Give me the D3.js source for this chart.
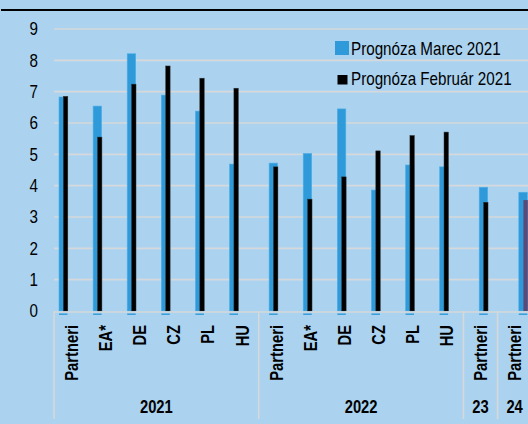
<!DOCTYPE html>
<html lang="sk">
<head>
    <meta charset="UTF-8">
    <title>Prognóza rastu partnerov</title>
    <style>
        body { margin: 0; background: #abd3f0; }
        svg { display: block; }
        text { font-family: "Liberation Sans", Arial, sans-serif; fill: #000; }
    </style>
</head>
<body>
<script src="https://cdn.jsdelivr.net/npm/d3@7/dist/d3.min.js"></script>
<script>
    // categories on the x axis and the year group each one belongs to
    const categories = ["Partneri", "EA*", "DE", "CZ", "PL", "HU",
                        "Partneri", "EA*", "DE", "CZ", "PL", "HU",
                        "Partneri", "Partneri"];
    const groups = ["2021", "2021", "2021", "2021", "2021", "2021",
                    "2022", "2022", "2022", "2022", "2022", "2022",
                    "23", "24"];
    // series values
    const marec   = [6.83, 6.54, 8.21, 6.89, 6.38, 4.69, 4.72, 5.03, 6.45, 3.86, 4.66, 4.60, 3.95, 3.79];
    const februar = [6.85, 5.55, 7.24, 7.82, 7.43, 7.11, 4.60, 3.57, 4.28, 5.11, 5.60, 5.71, 3.47, null];
    const extra   = [null, null, null, null, null, null, null, null, null, null, null, null, null, 3.54];
    const yTicks = [0, 1, 2, 3, 4, 5, 6, 7, 8, 9];
    const legendLabels = ["Prognóza Marec 2021", "Prognóza Február 2021"];

    const width = 528, height = 424;
    const plotLeft = 54, plotTop = 29, plotBottom = 311;
    const step = 34.12;
    // fake a narrow face, no Arial Narrow installed
    const narrow = 0.845, narrowBold = 0.82;

    const svg = d3.select("body").append("svg")
        .attr("width", width)
        .attr("height", height);

    // top rule
    svg.append("line")
        .attr("x1", 1).attr("x2", width)
        .attr("y1", 10).attr("y2", 10)
        .attr("stroke", "#000").attr("stroke-width", 2);

    const idx = categories.map((d, i) => i);
    const groupNames = Array.from(new Set(groups));

    // axis (label) scale
    const x = d3.scaleBand().domain(idx).range([plotLeft, plotLeft + step * categories.length]);
    // bars sit on their own scale, with a small gap between the year groups
    const gapUnits = 0.161;
    const xBar = d3.scaleLinear().domain([0, 1]).range([59, 59 + step * 0.9995]);
    const barPos = i => xBar(i + groupNames.indexOf(groups[i]) * gapUnits);

    const y = d3.scaleLinear().domain([0, 9]).range([plotBottom, plotTop]);

    // gridlines
    svg.append("g")
        .selectAll("line")
        .data(yTicks.filter(t => t > 0))
        .join("line")
            .attr("x1", plotLeft).attr("x2", width)
            .attr("y1", d => y(d)).attr("y2", d => y(d))
            .attr("stroke", "#d6d8da").attr("stroke-width", 1.6);

    // y axis labels
    svg.append("g")
        .selectAll("text")
        .data(yTicks)
        .join("text")
            .attr("transform", d => `translate(38,${y(d)}) scale(${narrow},1)`)
            .attr("dy", "0.36em")
            .attr("text-anchor", "end")
            .attr("font-size", 18)
            .text(d => d);

    // bars: blue (Marec), black (Február), purple (24)
    const bars = svg.append("g");
    bars.selectAll("rect.marec")
        .data(idx.filter(i => marec[i] != null))
        .join("rect")
            .attr("class", "marec")
            .attr("x", i => barPos(i))
            .attr("y", i => y(marec[i]))
            .attr("width", 8.5)
            .attr("height", i => y(0) - y(marec[i]))
            .attr("fill", "#2e9ad9")
            .attr("stroke", "#52afe6").attr("stroke-width", 0.6);
    bars.selectAll("rect.februar")
        .data(idx.filter(i => februar[i] != null))
        .join("rect")
            .attr("class", "februar")
            .attr("x", i => barPos(i) + 4.4)
            .attr("y", i => y(februar[i]))
            .attr("width", 4.4)
            .attr("height", i => y(0) - y(februar[i]))
            .attr("fill", "#000")
            .attr("stroke", "#333").attr("stroke-width", 0.5);
    bars.selectAll("rect.extra")
        .data(idx.filter(i => extra[i] != null))
        .join("rect")
            .attr("class", "extra")
            .attr("x", i => barPos(i) + 4.6)
            .attr("y", i => y(extra[i]))
            .attr("width", 4.4)
            .attr("height", i => y(0) - y(extra[i]))
            .attr("fill", "#5a4a78");

    // axis baseline and the small blue marks under bars
    svg.append("line")
        .attr("x1", plotLeft).attr("x2", width)
        .attr("y1", y(0) + 1).attr("y2", y(0) + 1)
        .attr("stroke", "#d6d8da").attr("stroke-width", 1.6);
    bars.selectAll("rect.stub")
        .data(idx)
        .join("rect")
            .attr("class", "stub")
            .attr("x", i => barPos(i))
            .attr("y", y(0) + 2.5)
            .attr("width", 8.5)
            .attr("height", 1.4)
            .attr("fill", "#2e9ad9");

    // group separators
    const bounds = [0];
    groupNames.forEach(g => bounds.push(groups.lastIndexOf(g) + 1));
    svg.append("g")
        .selectAll("line")
        .data(bounds)
        .join("line")
            .attr("x1", d => plotLeft + d * step).attr("x2", d => plotLeft + d * step)
            .attr("y1", y(0)).attr("y2", 419)
            .attr("stroke", "#d6d8da").attr("stroke-width", 1.6);

    // category labels (rotated)
    svg.append("g")
        .selectAll("text")
        .data(idx)
        .join("text")
            .attr("transform", i => `translate(${x(i) + x.bandwidth() / 2},325) rotate(-90) scale(${narrowBold},1)`)
            .attr("dy", "0.38em")
            .attr("text-anchor", "end")
            .attr("font-size", 18)
            .attr("font-weight", "bold")
            .text(i => categories[i]);

    // group labels
    svg.append("g")
        .selectAll("text")
        .data(groupNames)
        .join("text")
            .attr("transform", g => {
                const cx = (x(groups.indexOf(g)) + x(groups.lastIndexOf(g)) + x.bandwidth()) / 2;
                return `translate(${cx},413) scale(${narrowBold},1)`;
            })
            .attr("text-anchor", "middle")
            .attr("font-size", 18)
            .attr("font-weight", "bold")
            .text(g => g);

    // legend
    const legend = svg.append("g");
    legend.append("rect")
        .attr("x", 335).attr("y", 41).attr("width", 14).attr("height", 14)
        .attr("fill", "#2e9ad9");
    legend.append("rect")
        .attr("x", 337.5).attr("y", 75).attr("width", 10).attr("height", 9.5)
        .attr("fill", "#000");
    legend.selectAll("text")
        .data(legendLabels)
        .join("text")
            .attr("transform", (d, i) => `translate(351,${54.5 + i * 30.5}) scale(${narrow},1)`)
            .attr("font-size", 18)
            .text(d => d);
</script>
</body>
</html>
